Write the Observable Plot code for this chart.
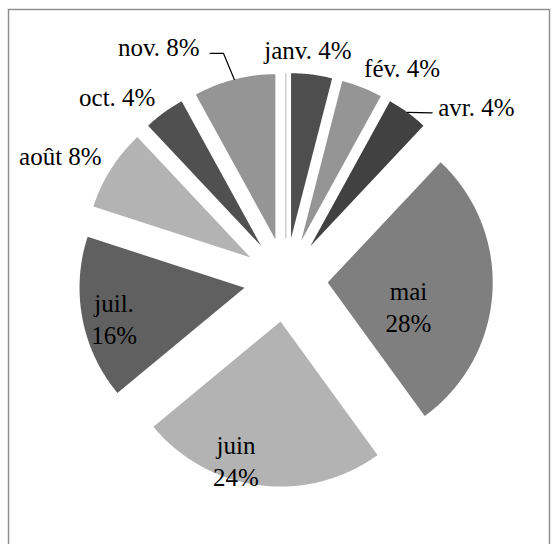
<!DOCTYPE html>
<html><head><meta charset="utf-8">
<script src="https://cdn.jsdelivr.net/npm/d3@7"></script>
<script src="https://cdn.jsdelivr.net/npm/@observablehq/plot@0.6"></script>
<style>
body{margin:0;background:#fff}
#chart svg{display:block}
#chart svg, #chart svg text{font-family:"Liberation Serif","Times New Roman","DejaVu Serif",serif !important}
</style>
</head><body><div id="chart"></div>
<script>
// ---- data ----
const months = ["janv.","fév.","mars","avr.","mai","juin","juil.","août","sept.","oct.","nov.","déc."];
const counts = [1,1,0,1,7,6,4,2,0,1,2,0];
const sliceFills = ["#4e4e4e","#959595","none","#414141","#7f7f7f","#b3b3b3","#606060","#b3b3b3","none","#505050","#959595","#c4c4c4"];

// ---- layout config ----
const W = 557, H = 544, CX = 285.3, CY = 279.4, RPX = 165;
const EXPLODE = 42 / RPX;
// label placement relative to each slice's apex: [radius factor, angle deg clockwise from top, two-line?]
const labelLayout = {
  "janv.": [1.150, 5.1, false], "fév.": [1.219, 30.1, false], "avr.": [1.316, 49.8, false],
  "mai": [0.509, 105.9, true], "juin": [0.878, 197.9, true], "juil.": [0.812, 256.9, true],
  "août": [1.310, 298.5, false], "oct.": [1.260, 316.2, false], "nov.": [1.368, 328.9, false]
};
// leader lines: list of [radius factor, angle] points after the arc midpoint
const leaderLayout = {
  "nov.": [[1.170, 344.4], [1.194, 340.66]],
  "avr.": [[1.093, 42.44]]
};

const total = d3.sum(counts);
const arcs = d3.pie().sort(null).value(d => d)(counts);
const slices = months.map((m, i) => {
  const p = arcs[i];
  const mid = (p.startAngle + p.endAngle) / 2;
  return {month: m, value: counts[i], pct: Math.round(counts[i] / total * 100),
    start: p.startAngle, end: p.endAngle, mid,
    ax: EXPLODE * Math.sin(mid), ay: EXPLODE * Math.cos(mid), fill: sliceFills[i]};
});
const polar = (s, k, deg) => {
  const a = deg * Math.PI / 180;
  return [s.ax + k * Math.sin(a), s.ay + k * Math.cos(a)];
};

const polys = [];
slices.filter(s => s.value > 0).forEach(s => {
  polys.push({month: s.month, x: s.ax, y: s.ay, fill: s.fill});
  const n = Math.max(2, Math.ceil((s.end - s.start) / (Math.PI / 360)));
  for (let j = 0; j <= n; j++) {
    const a = s.start + (s.end - s.start) * j / n;
    polys.push({month: s.month, x: s.ax + Math.sin(a), y: s.ay + Math.cos(a), fill: s.fill});
  }
});
const zeros = slices.filter(s => s.value === 0 && s.fill !== "none").map(s => ({
  x1: s.ax, y1: s.ay, x2: s.ax + Math.sin(s.start), y2: s.ay + Math.cos(s.start), fill: s.fill
}));

const leaders = [];
slices.forEach(s => {
  const L = leaderLayout[s.month];
  if (!L) return;
  const deg = s.mid * 180 / Math.PI;
  const p0 = polar(s, 1, deg);
  leaders.push({month: s.month, x: p0[0], y: p0[1]});
  L.forEach(([k, a]) => { const p = polar(s, k, a); leaders.push({month: s.month, x: p[0], y: p[1]}); });
});

const labels = slices.filter(s => labelLayout[s.month]).map(s => {
  const [k, a, two] = labelLayout[s.month];
  const [x, y] = polar(s, k, a);
  return {x, y, text: s.month + (two ? "\n" : " ") + s.pct + "%"};
});

const chart = Plot.plot({
  width: W, height: H, margin: 0,
  x: {domain: [-CX / RPX, (W - CX) / RPX], axis: null},
  y: {domain: [-(H - CY) / RPX, CY / RPX], axis: null},
  color: {type: "identity"},
  style: {background: "#fff", fontFamily: "Liberation Serif, serif"},
  marks: [
    Plot.frame({stroke: "#8c8c8c", strokeWidth: 1.4, insetLeft: 8, insetTop: 9, insetRight: 8, insetBottom: -10}),
    Plot.line(polys, {x: "x", y: "y", z: "month", fill: "fill", stroke: "none", curve: "linear-closed"}),
    Plot.link(zeros, {x1: "x1", y1: "y1", x2: "x2", y2: "y2", stroke: "fill", strokeWidth: 1.2}),
    Plot.line(leaders, {x: "x", y: "y", z: "month", stroke: "#000", strokeWidth: 1.2}),
    Plot.text(labels, {x: "x", y: "y", text: "text", fontSize: 25, lineAnchor: "middle", lineHeight: 1.28, fill: "#000",
      fontFamily: "Liberation Serif, serif"})
  ]
});
document.getElementById("chart").appendChild(chart);
</script>
</body></html>
